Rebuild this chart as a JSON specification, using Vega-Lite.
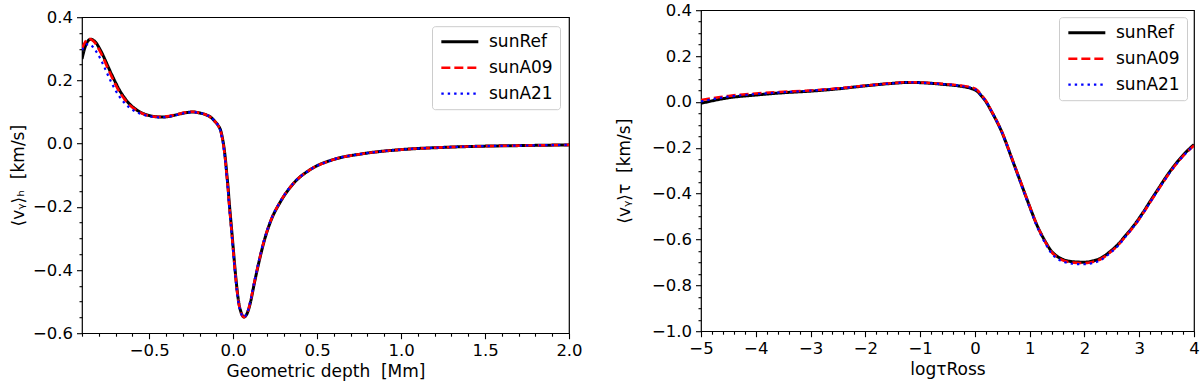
{
  "$schema": "https://vega.github.io/schema/vega-lite/v6.json",
  "padding": {"left": 8, "top": 1, "right": 0, "bottom": 0},
  "config": {
    "font": "DejaVu Sans",
    "view": {"stroke": "black", "strokeWidth": 1.2},
    "axis": {
      "domain": false, "grid": false,
      "labelFont": "DejaVu Sans", "labelFontSize": 16.5, "labelColor": "black",
      "titleFont": "DejaVu Sans", "titleFontSize": 17, "titleFontWeight": "normal", "titleColor": "black",
      "tickColor": "black", "tickWidth": 1.1,
      "labelFlush": false, "labelOverlap": false, "labelBound": false, "labelPadding": 4
    },
    "legend": {
      "symbolType": "M-1,0H5", "symbolSize": 152,
      "labelFont": "DejaVu Sans", "labelFontSize": 17, "labelColor": "black",
      "fillColor": "rgba(255,255,255,0.8)", "strokeColor": "#cccccc", "cornerRadius": 3,
      "padding": 7, "rowPadding": 8, "labelOffset": 33
    },
    "concat": {"spacing": 31}
  },
  "datasets": {
    "L": [
      {"s":"sunRef","x":-0.9,"y":0.268},{"s":"sunRef","x":-0.885,"y":0.300},{"s":"sunRef","x":-0.87,"y":0.320},{"s":"sunRef","x":-0.855,"y":0.329},{"s":"sunRef","x":-0.845,"y":0.330},{"s":"sunRef","x":-0.83,"y":0.326},{"s":"sunRef","x":-0.815,"y":0.318},{"s":"sunRef","x":-0.8,"y":0.305},{"s":"sunRef","x":-0.78,"y":0.285},{"s":"sunRef","x":-0.76,"y":0.262},{"s":"sunRef","x":-0.74,"y":0.238},{"s":"sunRef","x":-0.72,"y":0.215},{"s":"sunRef","x":-0.70,"y":0.193},{"s":"sunRef","x":-0.68,"y":0.172},{"s":"sunRef","x":-0.66,"y":0.155},{"s":"sunRef","x":-0.64,"y":0.140},{"s":"sunRef","x":-0.62,"y":0.127},{"s":"sunRef","x":-0.60,"y":0.117},{"s":"sunRef","x":-0.57,"y":0.105},{"s":"sunRef","x":-0.54,"y":0.096},{"s":"sunRef","x":-0.50,"y":0.089},{"s":"sunRef","x":-0.46,"y":0.085},{"s":"sunRef","x":-0.42,"y":0.084},{"s":"sunRef","x":-0.38,"y":0.086},{"s":"sunRef","x":-0.34,"y":0.091},{"s":"sunRef","x":-0.29,"y":0.097},{"s":"sunRef","x":-0.24,"y":0.100},{"s":"sunRef","x":-0.20,"y":0.097},{"s":"sunRef","x":-0.16,"y":0.091},{"s":"sunRef","x":-0.13,"y":0.082},{"s":"sunRef","x":-0.11,"y":0.071},{"s":"sunRef","x":-0.09,"y":0.058},{"s":"sunRef","x":-0.073,"y":0.039},{"s":"sunRef","x":-0.063,"y":0.015},{"s":"sunRef","x":-0.054,"y":-0.014},{"s":"sunRef","x":-0.045,"y":-0.055},{"s":"sunRef","x":-0.0375,"y":-0.098},{"s":"sunRef","x":-0.03,"y":-0.140},{"s":"sunRef","x":-0.024,"y":-0.182},{"s":"sunRef","x":-0.017,"y":-0.225},{"s":"sunRef","x":-0.01,"y":-0.266},{"s":"sunRef","x":0.002,"y":-0.340},{"s":"sunRef","x":0.016,"y":-0.424},{"s":"sunRef","x":0.032,"y":-0.498},{"s":"sunRef","x":0.05,"y":-0.538},{"s":"sunRef","x":0.065,"y":-0.549},{"s":"sunRef","x":0.08,"y":-0.541},{"s":"sunRef","x":0.093,"y":-0.523},{"s":"sunRef","x":0.105,"y":-0.498},{"s":"sunRef","x":0.125,"y":-0.445},{"s":"sunRef","x":0.155,"y":-0.372},{"s":"sunRef","x":0.185,"y":-0.308},{"s":"sunRef","x":0.224,"y":-0.245},{"s":"sunRef","x":0.284,"y":-0.182},{"s":"sunRef","x":0.363,"y":-0.124},{"s":"sunRef","x":0.46,"y":-0.082},{"s":"sunRef","x":0.60,"y":-0.050},{"s":"sunRef","x":0.76,"y":-0.033},{"s":"sunRef","x":1.0,"y":-0.019},{"s":"sunRef","x":1.25,"y":-0.012},{"s":"sunRef","x":1.5,"y":-0.008},{"s":"sunRef","x":1.75,"y":-0.006},{"s":"sunRef","x":2.0,"y":-0.004},

      {"s":"sunA09","x":-0.9,"y":0.300},{"s":"sunA09","x":-0.885,"y":0.318},{"s":"sunA09","x":-0.87,"y":0.329},{"s":"sunA09","x":-0.86,"y":0.332},{"s":"sunA09","x":-0.85,"y":0.331},{"s":"sunA09","x":-0.836,"y":0.326},{"s":"sunA09","x":-0.821,"y":0.318},{"s":"sunA09","x":-0.806,"y":0.305},{"s":"sunA09","x":-0.786,"y":0.285},{"s":"sunA09","x":-0.766,"y":0.262},{"s":"sunA09","x":-0.746,"y":0.238},{"s":"sunA09","x":-0.726,"y":0.215},{"s":"sunA09","x":-0.706,"y":0.193},{"s":"sunA09","x":-0.686,"y":0.172},{"s":"sunA09","x":-0.666,"y":0.155},{"s":"sunA09","x":-0.646,"y":0.140},{"s":"sunA09","x":-0.626,"y":0.127},{"s":"sunA09","x":-0.605,"y":0.117},{"s":"sunA09","x":-0.575,"y":0.105},{"s":"sunA09","x":-0.545,"y":0.096},{"s":"sunA09","x":-0.50,"y":0.088},{"s":"sunA09","x":-0.46,"y":0.085},{"s":"sunA09","x":-0.42,"y":0.085},{"s":"sunA09","x":-0.38,"y":0.087},{"s":"sunA09","x":-0.34,"y":0.092},{"s":"sunA09","x":-0.29,"y":0.098},{"s":"sunA09","x":-0.24,"y":0.101},{"s":"sunA09","x":-0.20,"y":0.097},{"s":"sunA09","x":-0.16,"y":0.091},{"s":"sunA09","x":-0.13,"y":0.082},{"s":"sunA09","x":-0.11,"y":0.071},{"s":"sunA09","x":-0.09,"y":0.058},{"s":"sunA09","x":-0.074,"y":0.039},{"s":"sunA09","x":-0.064,"y":0.015},{"s":"sunA09","x":-0.055,"y":-0.014},{"s":"sunA09","x":-0.046,"y":-0.055},{"s":"sunA09","x":-0.0385,"y":-0.098},{"s":"sunA09","x":-0.031,"y":-0.140},{"s":"sunA09","x":-0.025,"y":-0.182},{"s":"sunA09","x":-0.018,"y":-0.225},{"s":"sunA09","x":-0.011,"y":-0.266},{"s":"sunA09","x":0.001,"y":-0.340},{"s":"sunA09","x":0.015,"y":-0.424},{"s":"sunA09","x":0.031,"y":-0.498},{"s":"sunA09","x":0.049,"y":-0.538},{"s":"sunA09","x":0.064,"y":-0.549},{"s":"sunA09","x":0.079,"y":-0.541},{"s":"sunA09","x":0.092,"y":-0.523},{"s":"sunA09","x":0.104,"y":-0.498},{"s":"sunA09","x":0.124,"y":-0.445},{"s":"sunA09","x":0.154,"y":-0.372},{"s":"sunA09","x":0.184,"y":-0.308},{"s":"sunA09","x":0.223,"y":-0.245},{"s":"sunA09","x":0.283,"y":-0.182},{"s":"sunA09","x":0.362,"y":-0.124},{"s":"sunA09","x":0.46,"y":-0.082},{"s":"sunA09","x":0.60,"y":-0.050},{"s":"sunA09","x":0.76,"y":-0.033},{"s":"sunA09","x":1.0,"y":-0.019},{"s":"sunA09","x":1.25,"y":-0.012},{"s":"sunA09","x":1.5,"y":-0.008},{"s":"sunA09","x":1.75,"y":-0.006},{"s":"sunA09","x":2.0,"y":-0.004},

      {"s":"sunA21","x":-0.9,"y":0.296},{"s":"sunA21","x":-0.885,"y":0.308},{"s":"sunA21","x":-0.87,"y":0.314},{"s":"sunA21","x":-0.86,"y":0.315},{"s":"sunA21","x":-0.85,"y":0.313},{"s":"sunA21","x":-0.835,"y":0.306},{"s":"sunA21","x":-0.82,"y":0.295},{"s":"sunA21","x":-0.80,"y":0.278},{"s":"sunA21","x":-0.78,"y":0.257},{"s":"sunA21","x":-0.76,"y":0.234},{"s":"sunA21","x":-0.74,"y":0.210},{"s":"sunA21","x":-0.72,"y":0.188},{"s":"sunA21","x":-0.70,"y":0.168},{"s":"sunA21","x":-0.68,"y":0.151},{"s":"sunA21","x":-0.66,"y":0.137},{"s":"sunA21","x":-0.64,"y":0.125},{"s":"sunA21","x":-0.62,"y":0.115},{"s":"sunA21","x":-0.59,"y":0.104},{"s":"sunA21","x":-0.56,"y":0.096},{"s":"sunA21","x":-0.52,"y":0.089},{"s":"sunA21","x":-0.48,"y":0.085},{"s":"sunA21","x":-0.44,"y":0.083},{"s":"sunA21","x":-0.40,"y":0.084},{"s":"sunA21","x":-0.36,"y":0.088},{"s":"sunA21","x":-0.31,"y":0.094},{"s":"sunA21","x":-0.26,"y":0.099},{"s":"sunA21","x":-0.22,"y":0.099},{"s":"sunA21","x":-0.20,"y":0.097},{"s":"sunA21","x":-0.16,"y":0.091},{"s":"sunA21","x":-0.13,"y":0.082},{"s":"sunA21","x":-0.11,"y":0.071},{"s":"sunA21","x":-0.09,"y":0.058},{"s":"sunA21","x":-0.075,"y":0.039},{"s":"sunA21","x":-0.065,"y":0.015},{"s":"sunA21","x":-0.056,"y":-0.014},{"s":"sunA21","x":-0.047,"y":-0.055},{"s":"sunA21","x":-0.0395,"y":-0.098},{"s":"sunA21","x":-0.032,"y":-0.140},{"s":"sunA21","x":-0.026,"y":-0.182},{"s":"sunA21","x":-0.019,"y":-0.225},{"s":"sunA21","x":-0.012,"y":-0.266},{"s":"sunA21","x":0.0,"y":-0.340},{"s":"sunA21","x":0.014,"y":-0.424},{"s":"sunA21","x":0.030,"y":-0.498},{"s":"sunA21","x":0.048,"y":-0.538},{"s":"sunA21","x":0.063,"y":-0.549},{"s":"sunA21","x":0.078,"y":-0.541},{"s":"sunA21","x":0.091,"y":-0.523},{"s":"sunA21","x":0.103,"y":-0.498},{"s":"sunA21","x":0.123,"y":-0.445},{"s":"sunA21","x":0.153,"y":-0.372},{"s":"sunA21","x":0.183,"y":-0.308},{"s":"sunA21","x":0.222,"y":-0.245},{"s":"sunA21","x":0.282,"y":-0.182},{"s":"sunA21","x":0.361,"y":-0.124},{"s":"sunA21","x":0.46,"y":-0.082},{"s":"sunA21","x":0.60,"y":-0.050},{"s":"sunA21","x":0.76,"y":-0.033},{"s":"sunA21","x":1.0,"y":-0.019},{"s":"sunA21","x":1.25,"y":-0.012},{"s":"sunA21","x":1.5,"y":-0.008},{"s":"sunA21","x":1.75,"y":-0.006},{"s":"sunA21","x":2.0,"y":-0.004}
    ],
    "R": [
      {"s":"sunRef","x":-5.0,"y":-0.006},{"s":"sunRef","x":-4.5,"y":0.018},{"s":"sunRef","x":-4.0,"y":0.030},{"s":"sunRef","x":-3.5,"y":0.040},{"s":"sunRef","x":-3.0,"y":0.047},{"s":"sunRef","x":-2.5,"y":0.057},{"s":"sunRef","x":-2.0,"y":0.070},{"s":"sunRef","x":-1.5,"y":0.081},{"s":"sunRef","x":-1.2,"y":0.085},{"s":"sunRef","x":-1.0,"y":0.084},{"s":"sunRef","x":-0.6,"y":0.077},{"s":"sunRef","x":-0.25,"y":0.068},{"s":"sunRef","x":-0.06,"y":0.058},{"s":"sunRef","x":0.05,"y":0.045},{"s":"sunRef","x":0.12,"y":0.026},{"s":"sunRef","x":0.2,"y":0.002},{"s":"sunRef","x":0.3,"y":-0.040},{"s":"sunRef","x":0.4,"y":-0.085},{"s":"sunRef","x":0.486,"y":-0.128},{"s":"sunRef","x":0.58,"y":-0.185},{"s":"sunRef","x":0.67,"y":-0.244},{"s":"sunRef","x":0.76,"y":-0.302},{"s":"sunRef","x":0.85,"y":-0.360},{"s":"sunRef","x":0.94,"y":-0.418},{"s":"sunRef","x":1.033,"y":-0.477},{"s":"sunRef","x":1.12,"y":-0.530},{"s":"sunRef","x":1.215,"y":-0.578},{"s":"sunRef","x":1.3,"y":-0.615},{"s":"sunRef","x":1.397,"y":-0.651},{"s":"sunRef","x":1.5,"y":-0.673},{"s":"sunRef","x":1.64,"y":-0.690},{"s":"sunRef","x":1.8,"y":-0.697},{"s":"sunRef","x":2.0,"y":-0.699},{"s":"sunRef","x":2.15,"y":-0.694},{"s":"sunRef","x":2.31,"y":-0.680},{"s":"sunRef","x":2.45,"y":-0.656},{"s":"sunRef","x":2.61,"y":-0.622},{"s":"sunRef","x":2.76,"y":-0.580},{"s":"sunRef","x":2.915,"y":-0.535},{"s":"sunRef","x":3.07,"y":-0.482},{"s":"sunRef","x":3.22,"y":-0.426},{"s":"sunRef","x":3.37,"y":-0.371},{"s":"sunRef","x":3.52,"y":-0.317},{"s":"sunRef","x":3.67,"y":-0.269},{"s":"sunRef","x":3.825,"y":-0.226},{"s":"sunRef","x":4.0,"y":-0.186},

      {"s":"sunA09","x":-5.0,"y":0.008},{"s":"sunA09","x":-4.5,"y":0.026},{"s":"sunA09","x":-4.0,"y":0.037},{"s":"sunA09","x":-3.5,"y":0.044},{"s":"sunA09","x":-3.0,"y":0.050},{"s":"sunA09","x":-2.5,"y":0.059},{"s":"sunA09","x":-2.0,"y":0.071},{"s":"sunA09","x":-1.5,"y":0.082},{"s":"sunA09","x":-1.2,"y":0.086},{"s":"sunA09","x":-1.0,"y":0.085},{"s":"sunA09","x":-0.6,"y":0.079},{"s":"sunA09","x":-0.25,"y":0.071},{"s":"sunA09","x":-0.06,"y":0.063},{"s":"sunA09","x":0.05,"y":0.050},{"s":"sunA09","x":0.12,"y":0.030},{"s":"sunA09","x":0.2,"y":0.005},{"s":"sunA09","x":0.3,"y":-0.038},{"s":"sunA09","x":0.4,"y":-0.083},{"s":"sunA09","x":0.486,"y":-0.126},{"s":"sunA09","x":0.58,"y":-0.183},{"s":"sunA09","x":0.67,"y":-0.242},{"s":"sunA09","x":0.76,"y":-0.300},{"s":"sunA09","x":0.85,"y":-0.358},{"s":"sunA09","x":0.94,"y":-0.417},{"s":"sunA09","x":1.033,"y":-0.476},{"s":"sunA09","x":1.12,"y":-0.530},{"s":"sunA09","x":1.215,"y":-0.579},{"s":"sunA09","x":1.3,"y":-0.617},{"s":"sunA09","x":1.397,"y":-0.654},{"s":"sunA09","x":1.5,"y":-0.677},{"s":"sunA09","x":1.64,"y":-0.694},{"s":"sunA09","x":1.8,"y":-0.701},{"s":"sunA09","x":2.0,"y":-0.703},{"s":"sunA09","x":2.15,"y":-0.698},{"s":"sunA09","x":2.31,"y":-0.684},{"s":"sunA09","x":2.45,"y":-0.660},{"s":"sunA09","x":2.61,"y":-0.626},{"s":"sunA09","x":2.76,"y":-0.584},{"s":"sunA09","x":2.915,"y":-0.539},{"s":"sunA09","x":3.07,"y":-0.486},{"s":"sunA09","x":3.22,"y":-0.430},{"s":"sunA09","x":3.37,"y":-0.375},{"s":"sunA09","x":3.52,"y":-0.321},{"s":"sunA09","x":3.67,"y":-0.273},{"s":"sunA09","x":3.825,"y":-0.230},{"s":"sunA09","x":4.0,"y":-0.190},

      {"s":"sunA21","x":-5.0,"y":0.002},{"s":"sunA21","x":-4.5,"y":0.023},{"s":"sunA21","x":-4.0,"y":0.034},{"s":"sunA21","x":-3.5,"y":0.042},{"s":"sunA21","x":-3.0,"y":0.049},{"s":"sunA21","x":-2.5,"y":0.058},{"s":"sunA21","x":-2.0,"y":0.070},{"s":"sunA21","x":-1.5,"y":0.081},{"s":"sunA21","x":-1.2,"y":0.085},{"s":"sunA21","x":-1.0,"y":0.084},{"s":"sunA21","x":-0.6,"y":0.078},{"s":"sunA21","x":-0.25,"y":0.069},{"s":"sunA21","x":-0.06,"y":0.060},{"s":"sunA21","x":0.05,"y":0.047},{"s":"sunA21","x":0.12,"y":0.027},{"s":"sunA21","x":0.2,"y":0.003},{"s":"sunA21","x":0.3,"y":-0.040},{"s":"sunA21","x":0.4,"y":-0.085},{"s":"sunA21","x":0.486,"y":-0.129},{"s":"sunA21","x":0.58,"y":-0.186},{"s":"sunA21","x":0.67,"y":-0.246},{"s":"sunA21","x":0.76,"y":-0.305},{"s":"sunA21","x":0.85,"y":-0.364},{"s":"sunA21","x":0.94,"y":-0.423},{"s":"sunA21","x":1.033,"y":-0.482},{"s":"sunA21","x":1.12,"y":-0.536},{"s":"sunA21","x":1.215,"y":-0.585},{"s":"sunA21","x":1.3,"y":-0.623},{"s":"sunA21","x":1.397,"y":-0.660},{"s":"sunA21","x":1.5,"y":-0.683},{"s":"sunA21","x":1.64,"y":-0.699},{"s":"sunA21","x":1.8,"y":-0.706},{"s":"sunA21","x":2.0,"y":-0.708},{"s":"sunA21","x":2.15,"y":-0.703},{"s":"sunA21","x":2.31,"y":-0.688},{"s":"sunA21","x":2.45,"y":-0.663},{"s":"sunA21","x":2.61,"y":-0.628},{"s":"sunA21","x":2.76,"y":-0.585},{"s":"sunA21","x":2.915,"y":-0.539},{"s":"sunA21","x":3.07,"y":-0.486},{"s":"sunA21","x":3.22,"y":-0.430},{"s":"sunA21","x":3.37,"y":-0.375},{"s":"sunA21","x":3.52,"y":-0.321},{"s":"sunA21","x":3.67,"y":-0.273},{"s":"sunA21","x":3.825,"y":-0.230},{"s":"sunA21","x":4.0,"y":-0.190}
    ]
  },
  "center": true,
  "hconcat": [
    {
      "width": 487, "height": 316,
      "data": {"name": "L"},
      "mark": {"type": "line", "interpolate": "monotone", "clip": true},
      "encoding": {
        "x": {"field": "x", "type": "quantitative",
          "scale": {"domain": [-0.9, 2.0], "nice": false, "zero": false},
          "axis": {"title": "Geometric depth \u00a0[Mm]", "titlePadding": 4,
            "values": [-0.9,-0.8,-0.7,-0.6,-0.5,-0.4,-0.3,-0.2,-0.1,0,0.1,0.2,0.3,0.4,0.5,0.6,0.7,0.8,0.9,1.0,1.1,1.2,1.3,1.4,1.5,1.6,1.7,1.8,1.9,2.0],
            "labelExpr": "abs(datum.value/0.5 - round(datum.value/0.5)) < 1e-6 ? replace(format(datum.value, '.1f'), '-', '−') : ''",
            "tickSize": {"condition": {"test": "abs(datum.value/0.5 - round(datum.value/0.5)) < 1e-6", "value": 5.5}, "value": 3}}},
        "y": {"field": "y", "type": "quantitative",
          "scale": {"domain": [-0.6, 0.4], "nice": false, "zero": false},
          "axis": {"title": "⟨vᵧ⟩ₕ \u00a0[km/s]", "titlePadding": 5,
            "values": [-0.6,-0.55,-0.5,-0.45,-0.4,-0.35,-0.3,-0.25,-0.2,-0.15,-0.1,-0.05,0,0.05,0.1,0.15,0.2,0.25,0.3,0.35,0.4],
            "labelExpr": "abs(datum.value/0.2 - round(datum.value/0.2)) < 1e-6 ? replace(format(datum.value, '.1f'), '-', '−') : ''",
            "tickSize": {"condition": {"test": "abs(datum.value/0.2 - round(datum.value/0.2)) < 1e-6", "value": 5.5}, "value": 3}}},
        "color": {"field": "s", "type": "nominal",
          "scale": {"domain": ["sunRef", "sunA09", "sunA21"], "range": ["#000000", "#ff0000", "#0000ff"]},
          "legend": {"title": null, "orient": "top-right", "offset": 9}},
        "strokeDash": {"field": "s", "type": "nominal",
          "scale": {"domain": ["sunRef", "sunA09", "sunA21"], "range": [[1, 0], [9, 4], [2.4, 4]]},
          "legend": {"title": null, "orient": "top-right", "offset": 9}},
        "strokeWidth": {"field": "s", "type": "nominal",
          "scale": {"domain": ["sunRef", "sunA09", "sunA21"], "range": [3, 2.2, 2.2]},
          "legend": {"title": null, "orient": "top-right", "offset": 9}}
      }
    },
    {
      "width": 493, "height": 321,
      "data": {"name": "R"},
      "mark": {"type": "line", "interpolate": "monotone", "clip": true},
      "encoding": {
        "x": {"field": "x", "type": "quantitative",
          "scale": {"domain": [-5, 4], "nice": false, "zero": false},
          "axis": {"title": ["logτRoss", " "], "titleLineHeight": 9, "titlePadding": 4,
            "values": [-5,-4.8,-4.6,-4.4,-4.2,-4,-3.8,-3.6,-3.4,-3.2,-3,-2.8,-2.6,-2.4,-2.2,-2,-1.8,-1.6,-1.4,-1.2,-1,-0.8,-0.6,-0.4,-0.2,0,0.2,0.4,0.6,0.8,1,1.2,1.4,1.6,1.8,2,2.2,2.4,2.6,2.8,3,3.2,3.4,3.6,3.8,4],
            "labelExpr": "abs(datum.value - round(datum.value)) < 1e-6 ? replace(format(datum.value, 'd'), '-', '−') : ''",
            "tickSize": {"condition": {"test": "abs(datum.value - round(datum.value)) < 1e-6", "value": 5.5}, "value": 3}}},
        "y": {"field": "y", "type": "quantitative",
          "scale": {"domain": [-1.0, 0.4], "nice": false, "zero": false},
          "axis": {"title": "⟨vᵧ⟩τ \u00a0[km/s]", "titlePadding": 18,
            "values": [-1.0,-0.95,-0.9,-0.85,-0.8,-0.75,-0.7,-0.65,-0.6,-0.55,-0.5,-0.45,-0.4,-0.35,-0.3,-0.25,-0.2,-0.15,-0.1,-0.05,0,0.05,0.1,0.15,0.2,0.25,0.3,0.35,0.4],
            "labelExpr": "abs(datum.value/0.2 - round(datum.value/0.2)) < 1e-6 ? replace(format(datum.value, '.1f'), '-', '−') : ''",
            "tickSize": {"condition": {"test": "abs(datum.value/0.2 - round(datum.value/0.2)) < 1e-6", "value": 5.5}, "value": 3}}},
        "color": {"field": "s", "type": "nominal",
          "scale": {"domain": ["sunRef", "sunA09", "sunA21"], "range": ["#000000", "#ff0000", "#0000ff"]},
          "legend": {"title": null, "orient": "top-right", "offset": 7}},
        "strokeDash": {"field": "s", "type": "nominal",
          "scale": {"domain": ["sunRef", "sunA09", "sunA21"], "range": [[1, 0], [9, 4], [2.4, 4]]},
          "legend": {"title": null, "orient": "top-right", "offset": 7}},
        "strokeWidth": {"field": "s", "type": "nominal",
          "scale": {"domain": ["sunRef", "sunA09", "sunA21"], "range": [3, 2.2, 2.2]},
          "legend": {"title": null, "orient": "top-right", "offset": 7}}
      }
    }
  ],
  "resolve": {"scale": {"color": "independent", "strokeDash": "independent", "strokeWidth": "independent"}, "legend": {"color": "independent", "strokeDash": "independent", "strokeWidth": "independent"}}
}
